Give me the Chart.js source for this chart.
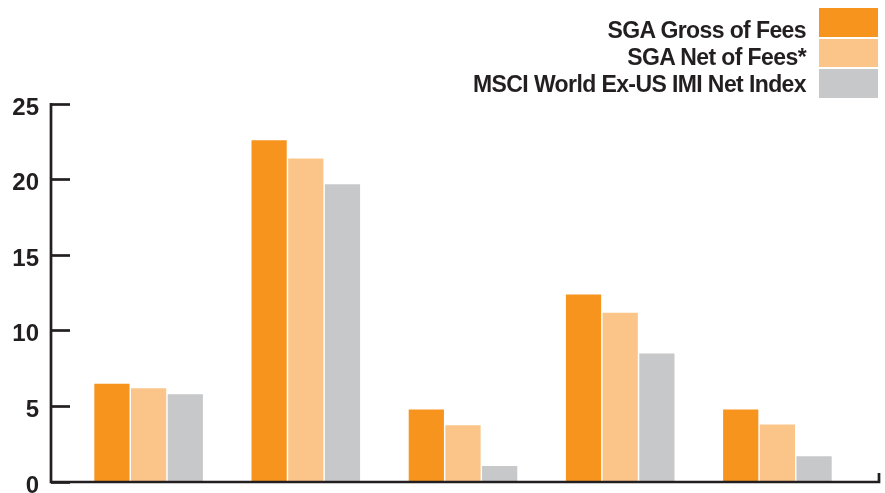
<!DOCTYPE html>
<html>
<head>
<meta charset="utf-8">
<script src="https://cdn.jsdelivr.net/npm/chart.js@4"></script>
<style>
  html, body { margin: 0; padding: 0; background: #fff; }
  #wrap { position: relative; width: 885px; height: 493px; overflow: hidden; }
  #chart { position: absolute; left: 0; top: 0; }
  #legendText {
    position: absolute; right: 79px; top: 16.7px; text-align: right;
    font: bold 23px "Liberation Sans", Arial, sans-serif; letter-spacing: -0.6px;
    line-height: 27.3px; color: #231F20; white-space: nowrap;
  }
  #legendBoxes { position: absolute; left: 819px; top: 8px; width: 59px; }
  #legendBoxes div { width: 59px; height: 28.5px; margin-bottom: 2px; }
</style>
</head>
<body>
<div id="wrap">
  <canvas id="chart" width="885" height="493"></canvas>
  <div id="legendText"></div>
  <div id="legendBoxes"></div>
</div>
<script>
const categories = ["1", "2", "3", "4", "5"];
const seriesNames = ["SGA Gross of Fees", "SGA Net of Fees*", "MSCI World Ex-US IMI Net Index"];
const grossValues = [6.5, 22.6, 4.8, 12.4, 4.8];
const netValues = [6.2, 21.4, 3.75, 11.2, 3.8];
const indexValues = [5.8, 19.7, 1.05, 8.5, 1.7];
const yTicks = [0, 5, 10, 15, 20, 25];

const colors = ["#F7941D", "#FBC589", "#C7C8CA"];
const ink = "#231F20";

// axis lines drawn by hand: y line sits left of the tick marks, x line runs past the plot
const axisLines = {
  id: "axisLines",
  afterDraw(chart) {
    const { ctx, chartArea } = chart;
    const yScale = chart.scales.y;
    const zeroY = yScale.getPixelForValue(0);
    const topY = yScale.getPixelForValue(25);
    const xLeft = chartArea.left - 19;
    const xRight = chartArea.right + 23;
    ctx.save();
    ctx.strokeStyle = ink;
    ctx.lineWidth = 2.7;
    ctx.beginPath();
    ctx.moveTo(xLeft, topY - 1);
    ctx.lineTo(xLeft, zeroY);
    ctx.lineTo(xRight, zeroY);
    ctx.lineTo(xRight, zeroY - 9);
    ctx.stroke();
    ctx.restore();
  }
};

const chart = new Chart(document.getElementById("chart"), {
  type: "bar",
  data: {
    labels: categories,
    datasets: [
      { label: seriesNames[0], data: grossValues, backgroundColor: colors[0] },
      { label: seriesNames[1], data: netValues, backgroundColor: colors[1] },
      { label: seriesNames[2], data: indexValues, backgroundColor: colors[2] }
    ]
  },
  options: {
    responsive: false,
    animation: false,
    layout: { padding: { top: 104, bottom: 11, left: 0, right: 29 } },
    datasets: { bar: { barPercentage: 0.96, categoryPercentage: 0.7 } },
    plugins: {
      legend: { display: false },
      tooltip: { enabled: false }
    },
    scales: {
      x: { display: false },
      y: {
        min: 0,
        max: 25,
        afterBuildTicks: (s) => { s.ticks = yTicks.map(v => ({ value: v })); },
        afterFit: (s) => { s.width = 70; s.paddingTop = 0; s.paddingBottom = 0; },
        border: { display: false },
        grid: {
          drawOnChartArea: false,
          drawTicks: true,
          tickLength: 19,
          tickColor: ink,
          tickWidth: 2.7
        },
        ticks: {
          padding: 12,
          labelOffset: 4,
          color: ink,
          font: { family: "'Liberation Sans', Arial, sans-serif", size: 24, weight: "bold" }
        }
      }
    }
  },
  plugins: [axisLines]
});

// legend: text right-aligned, colour swatches to the right
const legendText = document.getElementById("legendText");
const legendBoxes = document.getElementById("legendBoxes");
chart.data.datasets.forEach(ds => {
  const t = document.createElement("div");
  t.textContent = ds.label;
  legendText.appendChild(t);
  const b = document.createElement("div");
  b.style.background = ds.backgroundColor;
  legendBoxes.appendChild(b);
});
</script>
</body>
</html>
